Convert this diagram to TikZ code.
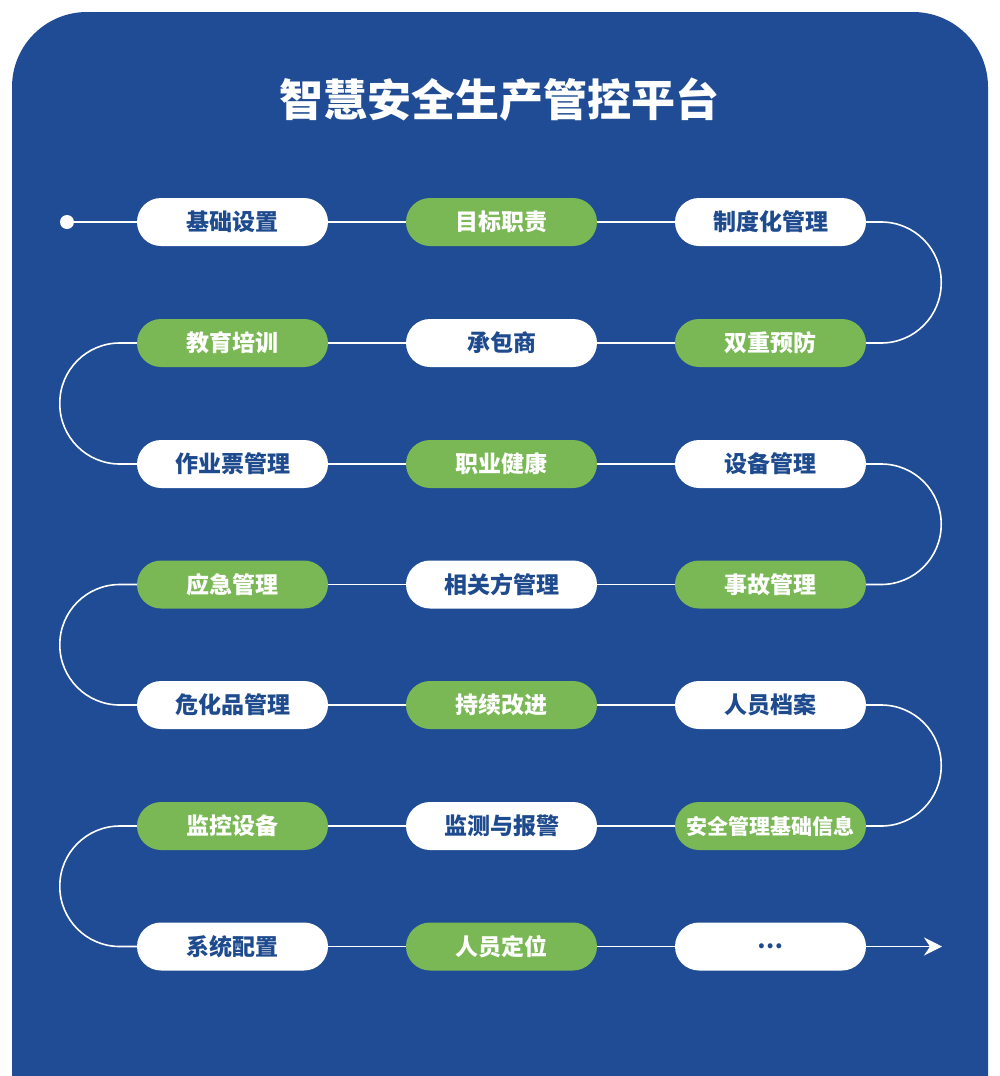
\documentclass[tikz,border=0pt]{standalone}
\usepackage{fontspec}
\usepackage{tikz}
\usetikzlibrary{arrows.meta}
\newfontfamily\cjk{Noto Sans CJK SC}
\definecolor{panel}{HTML}{1F4C94}
\definecolor{leaf}{HTML}{7AB755}
\definecolor{ink}{HTML}{1E4A8E}
\tikzset{
  pill/.style={rounded corners=24pt, minimum width=191pt, minimum height=48pt, inner sep=0pt,
    font=\cjk\bfseries\fontsize{23}{27}\selectfont},
  wpill/.style={pill, fill=white, text=ink},
  gpill/.style={pill, fill=leaf, text=white},
  link/.style={draw=white, line width=1.6pt},
  turn/.style={link, rounded corners=60pt},
  dot/.style={circle, fill=white, inner sep=0pt, minimum size=14pt}
}

\begin{document}
\begin{tikzpicture}[x=1pt,y=1pt]
  \useasboundingbox (0,0) rectangle (1000,-1076);
  \fill[white] (0,0) rectangle (1000,-1076);
  % panel, only the top corners show
  \fill[panel, rounded corners=75pt] (12,-1160) |- (988,-12) -- (988,-1160) -- cycle;
  \node[text=white, font=\cjk\bfseries\fontsize{44}{50}\selectfont] (title) at (499,-100) {智慧安全生产管控平台};

  % row 1
  \node[wpill] (r1a) at (232.5,-222) {基础设置};
  \node[gpill] (r1b) at (501.5,-222) {目标职责};
  \node[wpill] (r1c) at (770.5,-222) {制度化管理};
  % row 2
  \node[gpill] (r2a) at (232.5,-343) {教育培训};
  \node[wpill] (r2b) at (501.5,-343) {承包商};
  \node[gpill] (r2c) at (770.5,-343) {双重预防};
  % row 3
  \node[wpill] (r3a) at (232.5,-464) {作业票管理};
  \node[gpill] (r3b) at (501.5,-464) {职业健康};
  \node[wpill] (r3c) at (770.5,-464) {设备管理};
  % row 4
  \node[gpill] (r4a) at (232.5,-584.5) {应急管理};
  \node[wpill] (r4b) at (501.5,-584.5) {相关方管理};
  \node[gpill] (r4c) at (770.5,-584.5) {事故管理};
  % row 5
  \node[wpill] (r5a) at (232.5,-705) {危化品管理};
  \node[gpill] (r5b) at (501.5,-705) {持续改进};
  \node[wpill] (r5c) at (770.5,-705) {人员档案};
  % row 6
  \node[gpill] (r6a) at (232.5,-826) {监控设备};
  \node[wpill] (r6b) at (501.5,-826) {监测与报警};
  \node[gpill, font=\cjk\bfseries\fontsize{21}{25}\selectfont] (r6c) at (770.5,-826) {安全管理基础信息};
  % row 7
  \node[wpill] (r7a) at (232.5,-946.5) {系统配置};
  \node[gpill] (r7b) at (501.5,-946.5) {人员定位};
  \node[wpill] (r7c) at (770.5,-946.5) {…};

  \node[dot] (start) at (67,-222) {};
  \coordinate (finish) at (942,-946.5);

  % straight runs
  \draw[link] (start) -- (r1a) -- (r1b) -- (r1c);
  \foreach \r in {2,...,6}
    \draw[link] (r\r a) -- (r\r b) -- (r\r c);
  \draw[link] (r7a) -- (r7b) -- (r7c);
  \draw[link, -{Stealth[length=18pt, width=18pt, inset=6pt]}] (r7c) -- (finish);

  % turns
  \draw[turn] (r1c.east) -- ++(75,0) |- (r2c.east);
  \draw[turn] (r2a.west) -- ++(-77,0) |- (r3a.west);
  \draw[turn] (r3c.east) -- ++(75,0) |- (r4c.east);
  \draw[turn] (r4a.west) -- ++(-77,0) |- (r5a.west);
  \draw[turn] (r5c.east) -- ++(75,0) |- (r6c.east);
  \draw[turn] (r6a.west) -- ++(-77,0) |- (r7a.west);
\end{tikzpicture}
\end{document}
